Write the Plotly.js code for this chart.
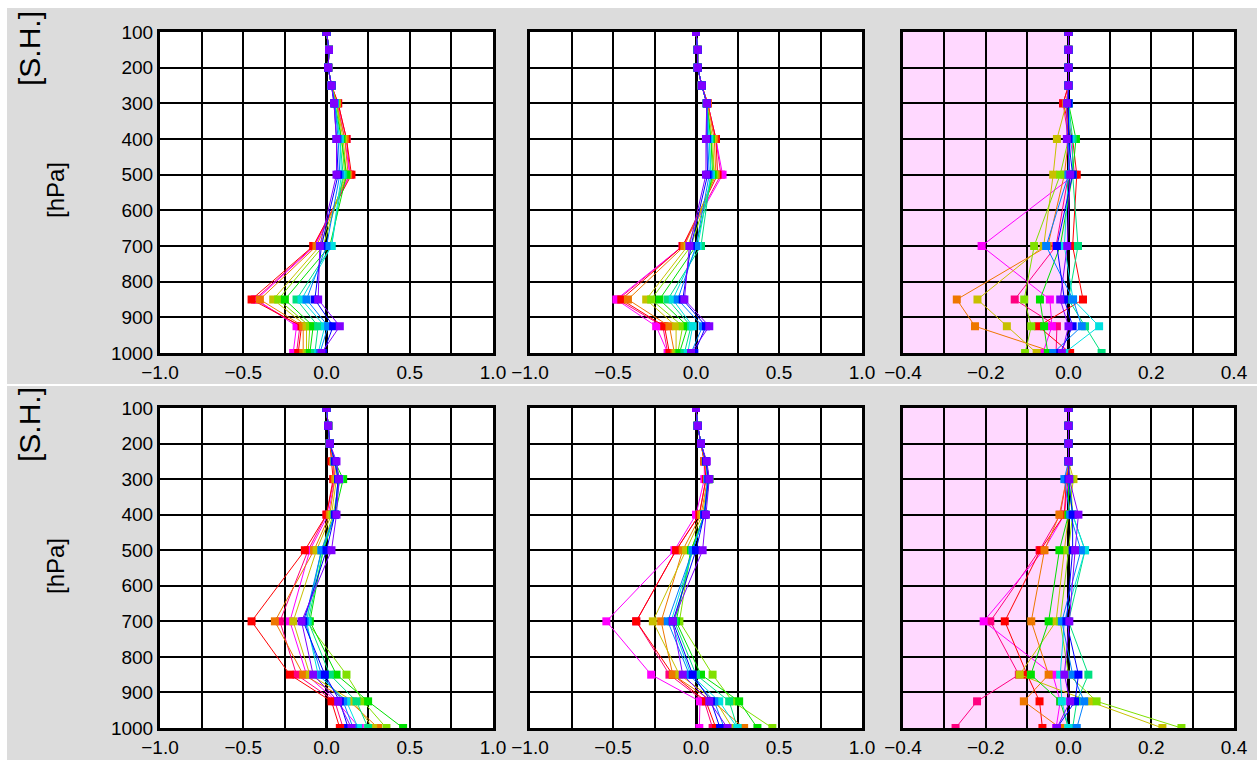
<!DOCTYPE html>
<html>
<head>
<meta charset="utf-8">
<script src="https://cdn.plot.ly/plotly-3.0.1.min.js"></script>
<style>
  html, body { margin: 0; padding: 0; background: #ffffff; }
  #chart { width: 1257px; height: 760px; }
</style>
</head>
<body>
<div id="chart"></div>
<script>
// Pressure levels (hPa) of every profile
const levels = [1000, 925, 850, 700, 500, 400, 300, 250, 200, 150, 100];

// Member names, in drawing order
const members = ['rose', 'magenta', 'red', 'orange', 'olive', 'yellowgreen', 'green', 'spring', 'cyan', 'azure', 'blue', 'violet'];

// Top-left panel (one row per member, values at `levels`)
const panelTopLeft = [
  [-0.18, -0.16, -0.43, -0.075, 0.14, 0.12, 0.07, 0.03, 0.01, 0.015, 0.0],
  [-0.20, -0.18, -0.42, -0.07, 0.14, 0.11, 0.065, 0.03, 0.01, 0.015, 0.0],
  [-0.17, -0.15, -0.45, -0.08, 0.15, 0.12, 0.07, 0.03, 0.01, 0.015, 0.0],
  [-0.14, -0.14, -0.40, -0.06, 0.13, 0.11, 0.06, 0.03, 0.01, 0.015, 0.0],
  [-0.12, -0.12, -0.32, -0.04, 0.12, 0.10, 0.06, 0.03, 0.01, 0.015, 0.0],
  [-0.11, -0.10, -0.29, -0.02, 0.11, 0.09, 0.06, 0.03, 0.01, 0.015, 0.0],
  [-0.10, -0.08, -0.25, 0.02, 0.12, 0.09, 0.05, 0.03, 0.01, 0.015, 0.0],
  [-0.07, -0.05, -0.18, 0.03, 0.10, 0.08, 0.05, 0.03, 0.01, 0.015, 0.0],
  [-0.05, -0.01, -0.15, 0.03, 0.09, 0.08, 0.05, 0.03, 0.01, 0.015, 0.0],
  [-0.04, 0.01, -0.12, 0.00, 0.08, 0.07, 0.05, 0.03, 0.01, 0.015, 0.0],
  [-0.02, 0.04, -0.07, -0.03, 0.07, 0.06, 0.045, 0.03, 0.01, 0.015, 0.0],
  [-0.03, 0.08, -0.05, -0.04, 0.06, 0.06, 0.045, 0.03, 0.01, 0.015, 0.0]
];

// Top-middle panel
const panelTopMid = [
  [-0.17, -0.20, -0.47, -0.08, 0.15, 0.12, 0.07, 0.035, 0.01, 0.01, 0.0],
  [-0.17, -0.24, -0.48, -0.08, 0.16, 0.12, 0.07, 0.035, 0.01, 0.01, 0.0],
  [-0.16, -0.19, -0.45, -0.08, 0.13, 0.12, 0.07, 0.035, 0.01, 0.01, 0.0],
  [-0.13, -0.16, -0.41, -0.07, 0.12, 0.11, 0.07, 0.035, 0.01, 0.01, 0.0],
  [-0.12, -0.12, -0.30, -0.05, 0.11, 0.10, 0.065, 0.035, 0.01, 0.01, 0.0],
  [-0.11, -0.08, -0.27, -0.03, 0.11, 0.09, 0.065, 0.035, 0.01, 0.01, 0.0],
  [-0.10, -0.05, -0.22, 0.00, 0.10, 0.09, 0.065, 0.035, 0.01, 0.01, 0.0],
  [-0.07, -0.03, -0.17, 0.03, 0.09, 0.08, 0.065, 0.035, 0.01, 0.01, 0.0],
  [-0.05, -0.02, -0.14, 0.01, 0.09, 0.08, 0.065, 0.035, 0.01, 0.01, 0.0],
  [-0.03, 0.04, -0.11, 0.00, 0.08, 0.07, 0.065, 0.035, 0.01, 0.01, 0.0],
  [-0.01, 0.06, -0.08, -0.03, 0.07, 0.065, 0.065, 0.035, 0.01, 0.01, 0.0],
  [-0.03, 0.08, -0.07, -0.04, 0.06, 0.06, 0.065, 0.035, 0.01, 0.01, 0.0]
];

// Top-right panel
const panelTopRight = [
  [-0.03, -0.028, -0.13, -0.03, 0.00, 0.00, -0.013, 0.0, 0.0, 0.0, 0.0],
  [-0.062, -0.04, -0.045, -0.21, 0.015, 0.005, 0.0, 0.0, 0.0, 0.0, 0.0],
  [0.004, -0.073, 0.035, 0.01, 0.02, 0.01, -0.013, 0.0, 0.0, 0.0, 0.0],
  [-0.03, -0.226, -0.27, -0.05, -0.01, 0.00, -0.005, 0.0, 0.0, 0.0, 0.0],
  [-0.077, -0.149, -0.22, -0.06, -0.037, -0.028, -0.005, 0.0, 0.0, 0.0, 0.0],
  [-0.105, -0.09, -0.107, -0.083, -0.02, 0.00, 0.00, 0.0, 0.0, 0.0, 0.0],
  [-0.05, -0.059, -0.069, -0.02, 0.01, 0.018, 0.00, 0.0, 0.0, 0.0, 0.0],
  [0.08, 0.04, 0.00, 0.023, 0.01, 0.01, 0.00, 0.0, 0.0, 0.0, 0.0],
  [-0.01, 0.074, 0.011, -0.01, 0.00, 0.005, 0.00, 0.0, 0.0, 0.0, 0.0],
  [-0.037, 0.032, 0.011, -0.054, 0.00, 0.00, 0.00, 0.0, 0.0, 0.0, 0.0],
  [-0.02, 0.01, -0.01, -0.028, 0.01, 0.00, 0.00, 0.0, 0.0, 0.0, 0.0],
  [-0.016, 0.00, -0.02, -0.003, 0.004, -0.004, -0.004, 0.0, 0.0, 0.0, 0.0]
];

// Bottom-left panel
const panelBotLeft = [
  [0.10, 0.05, -0.18, -0.28, -0.11, 0.00, 0.045, 0.04, 0.02, 0.01, 0.0],
  [0.20, 0.06, -0.12, -0.22, -0.10, 0.01, 0.05, 0.04, 0.02, 0.01, 0.0],
  [0.08, 0.03, -0.22, -0.45, -0.13, 0.00, 0.04, 0.03, 0.02, 0.01, 0.0],
  [0.31, 0.14, -0.14, -0.31, -0.075, 0.02, 0.05, 0.04, 0.02, 0.01, 0.0],
  [0.28, 0.16, -0.10, -0.20, -0.06, 0.03, 0.06, 0.05, 0.02, 0.01, 0.0],
  [0.36, 0.22, 0.12, -0.12, -0.03, 0.04, 0.08, 0.05, 0.02, 0.01, 0.0],
  [0.46, 0.25, 0.06, -0.10, -0.02, 0.05, 0.10, 0.05, 0.02, 0.01, 0.0],
  [0.25, 0.18, 0.02, -0.11, -0.02, 0.05, 0.08, 0.05, 0.02, 0.01, 0.0],
  [0.19, 0.12, -0.05, -0.12, -0.03, 0.05, 0.07, 0.05, 0.02, 0.01, 0.0],
  [0.16, 0.10, -0.03, -0.13, -0.03, 0.05, 0.07, 0.05, 0.02, 0.01, 0.0],
  [0.13, 0.08, -0.01, -0.14, 0.00, 0.05, 0.07, 0.05, 0.02, 0.01, 0.0],
  [0.15, 0.07, -0.08, -0.15, 0.03, 0.06, 0.075, 0.06, 0.02, 0.01, 0.0]
];

// Bottom-middle panel
const panelBotMid = [
  [0.10, 0.05, -0.16, -0.36, -0.12, 0.02, 0.06, 0.05, 0.03, 0.01, 0.0],
  [0.02, 0.024, -0.27, -0.54, -0.13, 0.00, 0.05, 0.05, 0.03, 0.01, 0.0],
  [0.12, 0.06, -0.14, -0.36, -0.12, 0.02, 0.06, 0.05, 0.03, 0.01, 0.0],
  [0.29, 0.10, -0.14, -0.21, -0.08, 0.03, 0.07, 0.05, 0.03, 0.01, 0.0],
  [0.22, 0.12, -0.10, -0.26, -0.06, 0.04, 0.07, 0.06, 0.03, 0.01, 0.0],
  [0.46, 0.22, 0.10, -0.10, -0.03, 0.05, 0.08, 0.06, 0.03, 0.01, 0.0],
  [0.37, 0.26, 0.03, -0.12, -0.03, 0.05, 0.08, 0.06, 0.03, 0.01, 0.0],
  [0.25, 0.20, 0.00, -0.13, -0.02, 0.05, 0.08, 0.06, 0.03, 0.01, 0.0],
  [0.25, 0.14, -0.03, -0.15, -0.02, 0.05, 0.07, 0.06, 0.03, 0.01, 0.0],
  [0.17, 0.11, -0.04, -0.17, -0.02, 0.05, 0.07, 0.06, 0.03, 0.01, 0.0],
  [0.145, 0.09, -0.02, -0.14, 0.00, 0.05, 0.075, 0.06, 0.03, 0.01, 0.0],
  [0.19, 0.08, -0.08, -0.14, 0.04, 0.06, 0.08, 0.065, 0.03, 0.01, 0.0]
];

// Bottom-right panel
const panelBotRight = [
  [-0.273, -0.221, -0.12, -0.189, -0.07, -0.02, -0.005, 0.0, 0.0, 0.0, 0.0],
  [-0.03, -0.02, -0.038, -0.205, -0.06, -0.01, 0.00, 0.0, 0.0, 0.0, 0.0],
  [-0.063, -0.07, -0.10, -0.154, -0.068, -0.01, -0.005, 0.0, 0.0, 0.0, 0.0],
  [-0.02, -0.108, -0.048, -0.09, -0.058, -0.022, -0.005, 0.0, 0.0, 0.0, 0.0],
  [0.227, 0.05, -0.118, -0.03, -0.01, 0.00, 0.012, 0.0, 0.0, 0.0, 0.0],
  [0.273, 0.068, 0.00, -0.02, 0.00, 0.01, 0.005, 0.0, 0.0, 0.0, 0.0],
  [0.00, -0.02, -0.091, -0.048, -0.022, 0.00, 0.00, 0.0, 0.0, 0.0, 0.0],
  [0.01, 0.02, 0.048, 0.00, 0.04, 0.01, 0.00, 0.0, 0.0, 0.0, 0.0],
  [0.00, -0.016, -0.02, -0.01, 0.04, 0.01, 0.00, 0.0, 0.0, 0.0, 0.0],
  [0.02, 0.038, 0.01, -0.016, 0.03, 0.004, -0.01, 0.0, 0.0, 0.0, 0.0],
  [-0.028, 0.016, 0.024, -0.005, 0.01, 0.01, 0.00, 0.0, 0.0, 0.0, 0.0],
  [-0.028, 0.004, -0.01, 0.002, 0.016, 0.024, 0.002, 0.0, 0.0, 0.0, 0.0]
];

// Tick positions and labels
const pressureTicks = [100, 200, 300, 400, 500, 600, 700, 800, 900, 1000];
const wideTickVals = [-1, -0.75, -0.5, -0.25, 0, 0.25, 0.5, 0.75, 1];
const wideTickText = ['\u22121.0', '', '\u22120.5', '', '0.0', '', '0.5', '', '1.0'];
const narrowTickVals = [-0.4, -0.3, -0.2, -0.1, 0, 0.1, 0.2, 0.3, 0.4];
const narrowTickText = ['\u22120.4', '', '\u22120.2', '', '0.0', '', '0.2', '', '0.4'];

// ---- styles ----
const memberColors = {
  rose: '#ff0080', magenta: '#ff00ff', red: '#ff0000', orange: '#ee7700',
  olive: '#c8c000', yellowgreen: '#80e000', green: '#00e000', spring: '#00e080',
  cyan: '#00e0e0', azure: '#0080ff', blue: '#0000ff', violet: '#8000ff'
};

const W = 1257, H = 760;
const colPx = [[160, 493], [530, 862], [903, 1234]];
const rowPx = [[32, 353], [408, 728]];
const font = '"Liberation Sans", Arial, Helvetica, sans-serif';

const panels = [
  {data: panelTopLeft, row: 0, col: 0, wide: true},
  {data: panelTopMid, row: 0, col: 1, wide: true},
  {data: panelTopRight, row: 0, col: 2, wide: false},
  {data: panelBotLeft, row: 1, col: 0, wide: true},
  {data: panelBotMid, row: 1, col: 1, wide: true},
  {data: panelBotRight, row: 1, col: 2, wide: false}
];

const traces = [];
const layout = {
  width: W, height: H,
  margin: {l: 0, r: 0, t: 0, b: 0, pad: 0},
  paper_bgcolor: '#dcdcdc',
  plot_bgcolor: '#ffffff',
  showlegend: false,
  font: {family: font, size: 19, color: '#000000'},
  shapes: [],
  annotations: []
};

panels.forEach((p, i) => {
  const n = i + 1;
  const xa = 'x' + (n === 1 ? '' : n);
  const ya = 'y' + (n === 1 ? '' : n);
  p.data.forEach((vals, k) => {
    const c = memberColors[members[k]];
    traces.push({
      type: 'scatter', mode: 'lines+markers',
      x: vals, y: levels,
      xaxis: xa, yaxis: ya,
      line: {color: c, width: 1},
      marker: {color: c, symbol: 'square', size: 8},
      hoverinfo: 'skip'
    });
  });
  const cx = colPx[p.col], ry = rowPx[p.row];
  layout['xaxis' + (n === 1 ? '' : n)] = {
    domain: [cx[0] / W, cx[1] / W],
    anchor: ya,
    range: p.wide ? [-1, 1] : [-0.4, 0.4],
    tickmode: 'array',
    tickvals: p.wide ? wideTickVals : narrowTickVals,
    ticktext: p.wide ? wideTickText : narrowTickText,
    ticks: '', ticklen: 0,
    showgrid: true, gridcolor: '#000000', gridwidth: 2,
    zeroline: true, zerolinecolor: '#000000', zerolinewidth: 3,
    showline: true, linecolor: '#000000', linewidth: 3, mirror: true,
    tickfont: {family: font, size: 19, color: '#000000'},
    fixedrange: true
  };
  layout['yaxis' + (n === 1 ? '' : n)] = {
    domain: [1 - ry[1] / H, 1 - ry[0] / H],
    anchor: xa,
    range: [1000, 100],
    tickmode: 'array',
    tickvals: pressureTicks,
    ticktext: pressureTicks.map(String),
    showticklabels: p.col === 0,
    ticks: '', ticklen: 0,
    showgrid: true, gridcolor: '#000000', gridwidth: 2,
    zeroline: false,
    showline: true, linecolor: '#000000', linewidth: 3, mirror: true,
    tickfont: {family: font, size: 19, color: '#000000'},
    fixedrange: true
  };
  if (!p.wide) {
    layout.shapes.push({
      type: 'rect', xref: xa, yref: ya + ' domain',
      x0: -0.4, x1: 0, y0: 0, y1: 1,
      fillcolor: '#ffd8ff', line: {width: 0}, layer: 'below'
    });
  }
});

// white frame strips and row separator
layout.shapes.push(
  {type: 'rect', xref: 'paper', yref: 'paper', x0: 0, x1: 1, y0: 1 - 8 / H, y1: 1, fillcolor: '#ffffff', line: {width: 0}, layer: 'below'},
  {type: 'rect', xref: 'paper', yref: 'paper', x0: 0, x1: 7 / W, y0: 0, y1: 1, fillcolor: '#ffffff', line: {width: 0}, layer: 'below'},
  {type: 'rect', xref: 'paper', yref: 'paper', x0: 0, x1: 1, y0: 1 - 386 / H, y1: 1 - 384 / H, fillcolor: '#ffffff', line: {width: 0}, layer: 'below'}
);

// side titles
[0, 1].forEach(r => {
  const top = rowPx[r][0];
  layout.annotations.push({
    text: '[S.H.]', xref: 'paper', yref: 'paper',
    x: 29 / W, y: 1 - (top + 17) / H, textangle: -90,
    showarrow: false, xanchor: 'center', yanchor: 'middle',
    font: {family: font, size: 30, color: '#000000'}
  });
  layout.annotations.push({
    text: '[hPa]', xref: 'paper', yref: 'paper',
    x: 55 / W, y: 1 - (top + 158) / H, textangle: -90,
    showarrow: false, xanchor: 'center', yanchor: 'middle',
    font: {family: font, size: 24, color: '#000000'}
  });
});

Plotly.newPlot('chart', traces, layout, {staticPlot: true, displayModeBar: false});
</script>
</body>
</html>
